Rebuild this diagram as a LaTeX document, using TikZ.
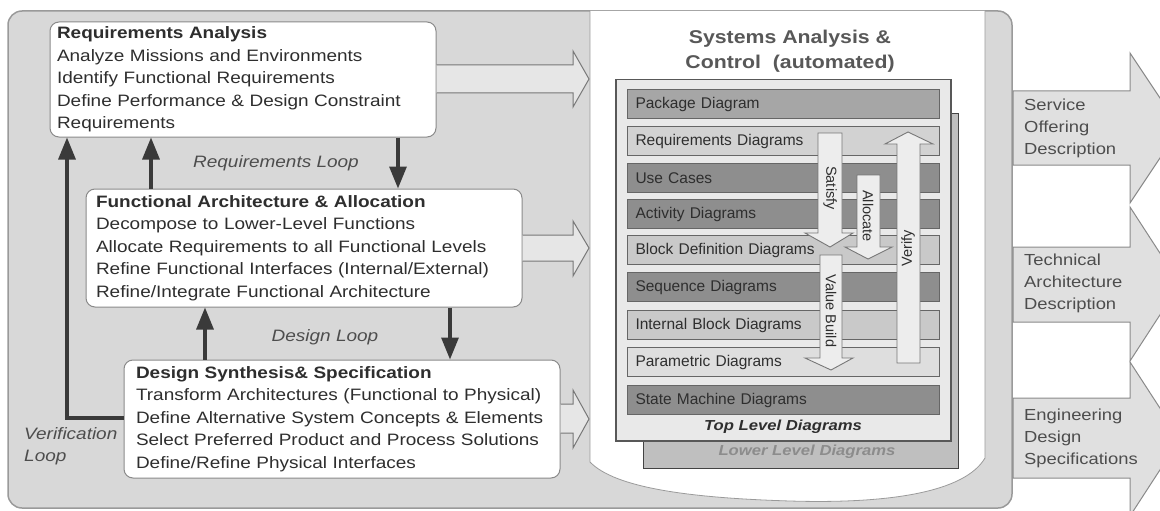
\documentclass[tikz,border=0pt]{standalone}
\usepackage{fontspec}
\setmainfont{Liberation Sans}
\newfontfamily\wf{Liberation Sans}[FakeStretch=1.15]
\newfontfamily\nf{Liberation Sans}
\usetikzlibrary{arrows.meta}
\definecolor{panelc}{HTML}{D8D8D8}
\definecolor{panelb}{HTML}{9A9A9A}
\definecolor{boxb}{HTML}{8A8A8A}
\definecolor{txt}{HTML}{2E2E2E}
\definecolor{darkarr}{HTML}{3A3A3A}
\definecolor{harfill}{HTML}{E6E6E6}
\definecolor{harb}{HTML}{777777}
\definecolor{pkgc}{HTML}{A6A6A6}
\definecolor{reqc}{HTML}{D2D2D2}
\definecolor{darkrow}{HTML}{8E8E8E}
\definecolor{bddc}{HTML}{C9C9C9}
\definecolor{parc}{HTML}{DEDEDE}
\definecolor{rowb}{HTML}{666666}
\definecolor{topc}{HTML}{E9E9E9}
\definecolor{lowc}{HTML}{BFBFBF}
\definecolor{outc}{HTML}{E0E0E0}
\begin{document}
\begin{tikzpicture}[x=1pt,y=-1pt,
  lbox/.style={draw=boxb, fill=white, rounded corners=9pt, line width=1pt,
    font=\wf\fontsize{16.5}{22.5}\selectfont, align=left, text=txt, inner ysep=4pt},
  darr/.style={draw=darkarr, line width=3.2pt, -{Triangle[length=22pt,width=17pt]}},
  looplab/.style={font=\wf\itshape\fontsize{16.5}{22.5}\selectfont, text=txt!85, inner sep=0pt},
  rowbox/.style={draw=rowb, line width=1pt, anchor=north west, minimum height=29pt,
    text width=296pt, inner xsep=8pt, align=left, font=\nf\fontsize{15.5}{18}\selectfont, text=txt},
  harr/.style={fill=harfill, draw=harb, line width=1pt},
  varr/.style={fill=harfill!70!white, draw=harb, line width=0.9pt},
  arrlab/.style={font=\nf\fontsize{14.5}{16}\selectfont, text=txt, inner sep=0pt},
  outarr/.style={fill=outc, draw=boxb, line width=1pt},
  outlab/.style={font=\wf\fontsize{16}{22}\selectfont, text=txt!85, align=left, inner sep=0pt, anchor=west}
]
\useasboundingbox (0,0) rectangle (1160,511);
\clip (0,0) rectangle (1160,511);

% outer panel
\draw[fill=panelc, draw=panelb, line width=1.5pt, rounded corners=14pt] (8,11) rectangle (1012,508);

% white document shape
\draw[fill=white, draw=panelb, line width=0.8pt] (590,11) -- (590,462)
  .. controls (615,488) and (690,498) .. (790,501)
  .. controls (890,504) and (965,492) .. (985,458) -- (985,11);

% left boxes
\node[lbox, text width=372pt, inner xsep=7pt, minimum height=115pt] (ra) at (243,79.5)
  {{\bfseries Requirements Analysis}\\ Analyze Missions and Environments\\ Identify Functional Requirements\\ Define Performance \& Design Constraint\\ Requirements};
\node[lbox, text width=416pt, inner xsep=10pt, minimum height=118pt] (fa) at (304,248)
  {{\bfseries Functional Architecture \& Allocation}\\ Decompose to Lower-Level Functions\\ Allocate Requirements to all Functional Levels\\ Refine Functional Interfaces (Internal/External)\\ Refine/Integrate Functional Architecture};
\node[lbox, text width=412pt, inner xsep=12pt, minimum height=118pt] (ds) at (342,419)
  {{\bfseries Design Synthesis\& Specification}\\ Transform Architectures (Functional to Physical)\\ Define Alternative System Concepts \& Elements\\ Select Preferred Product and Process Solutions\\ Define/Refine Physical Interfaces};

% loops
\draw[darr] (398,0 |- ra.south) -- (398,0 |- fa.north);
\draw[darr] (151,0 |- fa.north) -- (151,0 |- ra.south);
\draw[darr] (450,0 |- fa.south) -- (450,0 |- ds.north);
\draw[darr] (205,0 |- ds.north) -- (205,0 |- fa.south);
\draw[darr] (ds.west |- 0,418) -| (67,0 |- ra.south);

\node[looplab] (rl) at (276,163) {Requirements Loop};
\node[looplab] (dl) at (325,337) {Design Loop};
\node[looplab, align=left, anchor=west] (vl) at (24,446) {Verification\\Loop};

% hollow arrows from boxes to panel
\fill[harfill] (ra.east |- 0,65) -- (573,65) -- (573,51) -- (589,79) -- (573,107) -- (573,93) -- (ra.east |- 0,93) -- cycle;
\draw[harb, line width=1pt] (ra.east |- 0,65) -- (573,65) -- (573,51) -- (589,79) -- (573,107) -- (573,93) -- (ra.east |- 0,93);
\fill[harfill] (fa.east |- 0,235) -- (573,235) -- (573,221) -- (589,248) -- (573,276) -- (573,261) -- (fa.east |- 0,261) -- cycle;
\draw[harb, line width=1pt] (fa.east |- 0,235) -- (573,235) -- (573,221) -- (589,248) -- (573,276) -- (573,261) -- (fa.east |- 0,261);
\fill[harfill] (ds.east |- 0,404) -- (573,404) -- (573,390) -- (589,419) -- (573,448) -- (573,433) -- (ds.east |- 0,433) -- cycle;
\draw[harb, line width=1pt] (ds.east |- 0,404) -- (573,404) -- (573,390) -- (589,419) -- (573,448) -- (573,433) -- (ds.east |- 0,433);

% title
\node[font=\wf\bfseries\fontsize{18.5}{25}\selectfont, text=txt!80, align=center] (title) at (790,51)
  {Systems Analysis \&\\ Control\ \ (automated)};

% lower / top level frames
\node[draw=txt!90, fill=lowc, line width=1.2pt, minimum width=315pt, minimum height=355pt, anchor=north west, inner sep=0pt] (low) at (643,113) {};
\node[font=\wf\bfseries\itshape\fontsize{14.5}{16}\selectfont, text=txt!55] (lowlab) at (807,452) {Lower Level Diagrams};
\node[draw=txt!80, fill=topc, line width=1.5pt, minimum width=335pt, minimum height=361pt, anchor=north west, inner sep=0pt] (top) at (615,79) {};
\node[font=\wf\bfseries\itshape\fontsize{14.5}{16}\selectfont, text=txt] (toplab) at (783,427) {Top Level Diagrams};

% rows
\node[rowbox, fill=pkgc] (r1) at (627,89) {Package Diagram};
\node[rowbox, fill=reqc] (r2) at (627,126) {Requirements Diagrams};
\node[rowbox, fill=darkrow] (r3) at (627,163) {Use Cases};
\node[rowbox, fill=darkrow] (r4) at (627,199) {Activity Diagrams};
\node[rowbox, fill=bddc] (r5) at (627,235) {Block Definition Diagrams};
\node[rowbox, fill=darkrow] (r6) at (627,272) {Sequence Diagrams};
\node[rowbox, fill=bddc] (r7) at (627,310) {Internal Block Diagrams};
\node[rowbox, fill=parc] (r8) at (627,347) {Parametric Diagrams};
\node[rowbox, fill=darkrow] (r9) at (627,385) {State Machine Diagrams};

% vertical block arrows
\draw[varr] (818,133) -- (842,133) -- (842,233) -- (853,233) -- (830,247) -- (805,233) -- (818,233) -- cycle;
\draw[varr] (857,175) -- (880,175) -- (880,247) -- (892,247) -- (868,259) -- (845,247) -- (857,247) -- cycle;
\draw[varr] (897,363) -- (920,363) -- (920,144) -- (933,144) -- (908,132) -- (885,144) -- (897,144) -- cycle;
\draw[varr] (820,255) -- (842,255) -- (842,358) -- (853,358) -- (831,370) -- (805,358) -- (820,358) -- cycle;
\node[arrlab, rotate=-90] (sat) at (830,188) {Satisfy};
\node[arrlab, rotate=-90] (alo) at (868,216) {Allocate};
\node[arrlab, rotate=90] (ver) at (908,248) {Verify};
\node[arrlab, rotate=-90] (vb) at (831,311) {Value Build};

% output arrows
\draw[outarr] (1013,91) -- (1130,91) -- (1130,53) -- (1180,128) -- (1130,203) -- (1130,165) -- (1013,165) -- cycle;
\draw[outarr] (1013,247) -- (1130,247) -- (1130,207) -- (1180,284) -- (1130,361) -- (1130,322) -- (1013,322) -- cycle;
\draw[outarr] (1013,398) -- (1130,398) -- (1130,362) -- (1180,439) -- (1130,516) -- (1130,478) -- (1013,478) -- cycle;
\node[outlab] (o1) at (1024,128) {Service\\Offering\\Description};
\node[outlab] (o2) at (1024,283) {Technical\\Architecture\\Description};
\node[outlab] (o3) at (1024,438) {Engineering\\Design\\Specifications};
\end{tikzpicture}
\end{document}
